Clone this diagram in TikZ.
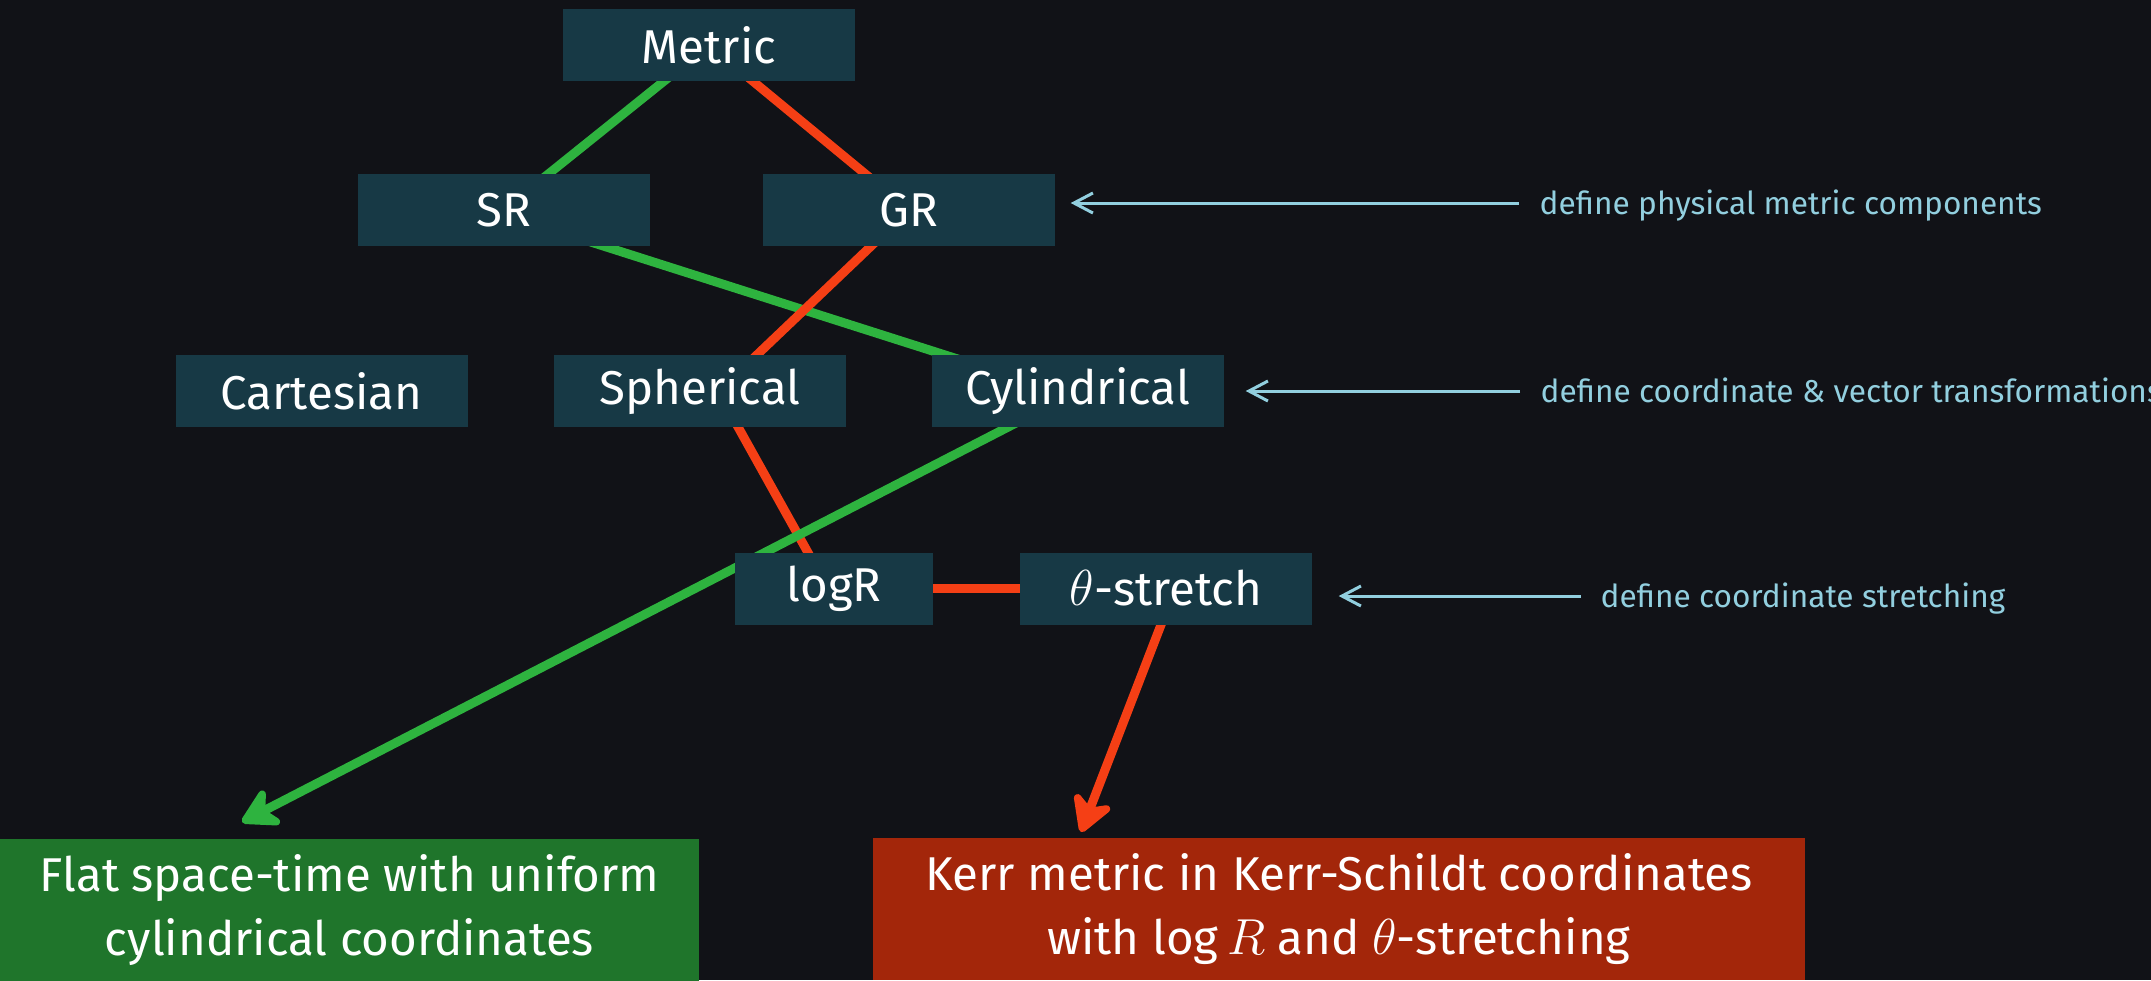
\documentclass[tikz,border=0pt]{standalone}
\usepackage{fontspec}
\setmainfont{Fira Sans}
\usetikzlibrary{arrows.meta,calc}
\definecolor{bgdark}{HTML}{111217}
\definecolor{boxteal}{HTML}{173945}
\definecolor{linegreen}{HTML}{2EB33F}
\definecolor{linered}{HTML}{F53F15}
\definecolor{flatgreen}{HTML}{1F752B}
\definecolor{kerrred}{HTML}{A3260A}
\definecolor{notecyan}{HTML}{92CFDF}
\pgfdeclarelayer{bg}
\pgfdeclarelayer{edges}
\pgfsetlayers{bg,edges,main}
\tikzset{
	modbox/.style={fill=boxteal, text=white, minimum width=2.92cm, minimum height=0.72cm, inner sep=0pt, font=\fontsize{13.5}{17}\selectfont},
	resbox/.style={text=white, minimum height=1.42cm, align=center, inner sep=0pt, font=\fontsize{13.5}{18}\selectfont},
	grn/.style={draw=linegreen, line width=0.09cm},
	rd/.style={draw=linered, line width=0.09cm},
	bigtip/.style={-{Stealth[length=0.44cm, width=0.5cm, inset=0.14cm, round]}},
	note/.style={text=notecyan, anchor=west, inner sep=0pt, text height=0.30cm, text depth=0.08cm, font=\fontsize{9}{11}\selectfont},
	notearrow/.style={draw=notecyan, line width=0.03cm, -{Straight Barb[length=0.19cm, width=0.2cm]}},
}
\begin{document}
\begin{tikzpicture}
	\useasboundingbox (0,0) rectangle (21.51,-9.80);
	\begin{pgfonlayer}{bg}
		\fill[bgdark] (0,0) rectangle (21.51,-9.80);
	\end{pgfonlayer}
	% boxes
	\node[modbox] (metric) at (7.09,-0.45) {Metric};
	\node[modbox] (sr) at (5.035,-2.10) {SR};
	\node[modbox] (gr) at (9.09,-2.10) {GR};
	\node[modbox] (cart) at (3.215,-3.91) {Cartesian};
	\node[modbox] (sph) at (7.00,-3.91) {Spherical};
	\node[modbox] (cyl) at (10.78,-3.91) {Cylindrical};
	\node[modbox, minimum width=1.98cm] (logr) at (8.34,-5.885) {logR};
	\node[modbox] (theta) at (11.66,-5.885) {$\theta$-stretch};
	\node[resbox, fill=flatgreen, minimum width=6.99cm] (flat) at (3.495,-9.10) {Flat space-time with uniform\\cylindrical coordinates};
	\node[resbox, fill=kerrred, minimum width=9.32cm] (kerr) at (13.39,-9.09) {Kerr metric in Kerr-Schildt coordinates\\with $\log R$ and $\theta$-stretching};
	\coordinate (flattip) at (2.42,-8.22);
	\coordinate (kerrtip) at (10.81,-8.32);
	% links
	\begin{pgfonlayer}{edges}
		\draw[grn] (metric.center) -- (sr.center);
		\draw[rd] (metric.center) -- (gr.center);
		\draw[grn] ([xshift=-0.13cm]sr.center) -- ([xshift=-0.2cm]cyl.center);
		\draw[rd] (gr.center) -- ([xshift=0.19cm]sph.center);
		\draw[rd] ([xshift=0.18cm]sph.center) -- ([xshift=-0.06cm]logr.center);
		\draw[rd] (logr.center) -- (theta.center);
		\draw[grn, bigtip] (cyl.center) -- (flattip);
		\draw[rd, bigtip] ([xshift=0.09cm]theta.center) -- (kerrtip);
	\end{pgfonlayer}
	% notes
	\node[note] (notemetric) at (15.39,-2.03) {define physical metric components};
	\node[note] (notecoord) at (15.40,-3.91) {define coordinate \& vector transformations};
	\node[note] (notestretch) at (16.00,-5.96) {define coordinate stretching};
	\draw[notearrow] ([xshift=-0.2cm]notemetric.west) -- ($(gr.east |- notemetric.west)+(0.15,0)$);
	\draw[notearrow] ([xshift=-0.2cm]notecoord.west) -- ($(cyl.east |- notecoord.west)+(0.21,0)$);
	\draw[notearrow] ([xshift=-0.19cm]notestretch.west) -- ($(theta.east |- notestretch.west)+(0.26,0)$);
\end{tikzpicture}
\end{document}
